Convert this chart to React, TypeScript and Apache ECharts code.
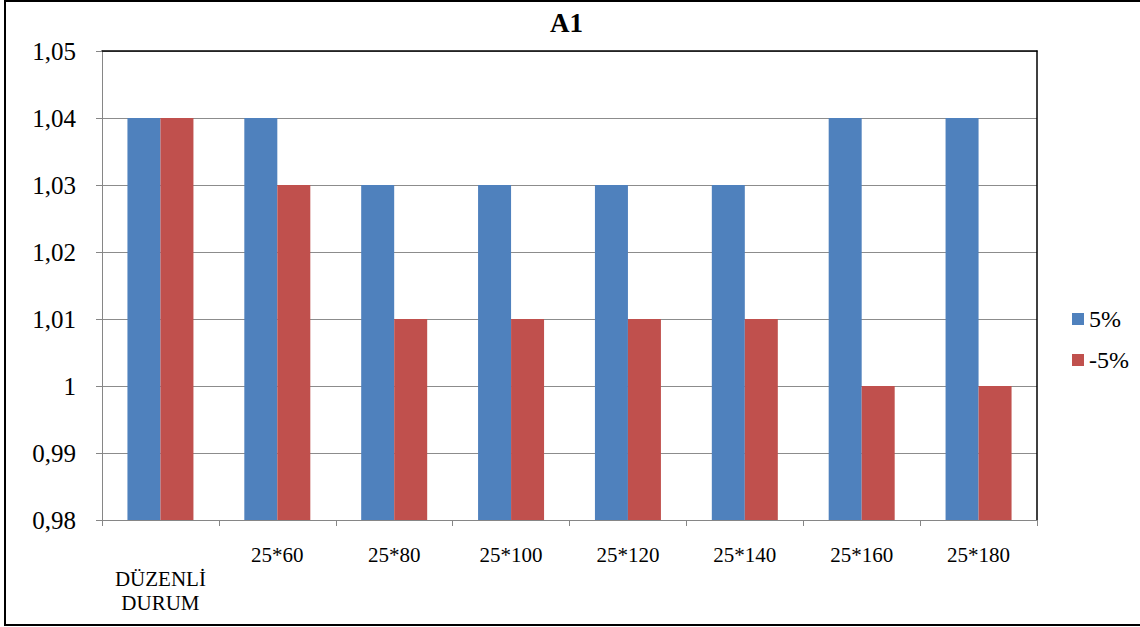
import React, { useEffect, useRef } from "react";
import * as echarts from "echarts";

const categories = ["DÜZENLİ DURUM", "25*60", "25*80", "25*100", "25*120", "25*140", "25*160", "25*180"];
const seriesPlus = [1.04, 1.04, 1.03, 1.03, 1.03, 1.03, 1.04, 1.04];
const seriesMinus = [1.04, 1.03, 1.01, 1.01, 1.01, 1.01, 1.0, 1.0];
const seriesNames = ["5%", "-5%"];
const yMin = 0.98;
const yMax = 1.05;
const yStep = 0.01;

const FONT = "Times New Roman, Liberation Serif, serif";

export default function App() {
  const ref = useRef<HTMLDivElement>(null);

  useEffect(() => {
    document.body.style.margin = "0";
    if (!ref.current) return;
    const chart = echarts.init(ref.current, undefined, { renderer: "svg" });

    const formatTick = (v: number) => String(Number(v.toFixed(2))).replace(".", ",");
    const formatCat = (v: string) => (v === "DÜZENLİ DURUM" ? "\nDÜZENLİ\nDURUM" : v);

    chart.setOption({
      animation: false,
      backgroundColor: "#ffffff",
      textStyle: { fontFamily: FONT },
      title: {
        text: "A1",
        left: 550,
        top: 9,
        padding: 0,
        textStyle: { fontFamily: FONT, fontSize: 27, fontWeight: "bold", color: "#000" },
      },
      legend: {
        orient: "vertical",
        left: 1067,
        top: 302,
        itemWidth: 12,
        itemHeight: 12,
        itemGap: 17,
        icon: "rect",
        textStyle: { fontFamily: FONT, fontSize: 24, color: "#000" },
        data: seriesNames,
      },
      grid: { left: 102, right: 103, top: 51, bottom: 107, containLabel: false },
      xAxis: [
        {
          type: "category",
          data: categories,
          axisLine: { lineStyle: { color: "#868686", width: 1 } },
          axisTick: { show: true, length: 6, alignWithLabel: false, lineStyle: { color: "#868686" } },
          axisLabel: {
            interval: 0,
            margin: 23,
            fontFamily: FONT,
            fontSize: 21,
            lineHeight: 24,
            color: "#000",
            formatter: formatCat,
          },
        },
        {
          type: "category",
          position: "top",
          data: categories,
          axisLine: { lineStyle: { color: "#000", width: 1.5 } },
          axisTick: { show: false },
          axisLabel: { show: false },
        },
      ],
      yAxis: [
        {
          type: "value",
          min: yMin,
          max: yMax,
          interval: yStep,
          axisLine: { show: true, lineStyle: { color: "#868686", width: 1 } },
          axisTick: { show: true, length: 6, lineStyle: { color: "#868686" } },
          splitLine: { show: true, lineStyle: { color: "#8c8c8c", width: 1 } },
          axisLabel: {
            margin: 26,
            fontFamily: FONT,
            fontSize: 25,
            color: "#000",
            formatter: formatTick,
          },
        },
        {
          type: "value",
          position: "right",
          min: yMin,
          max: yMax,
          interval: yStep,
          axisLine: { show: true, lineStyle: { color: "#000", width: 1.5 } },
          axisTick: { show: false },
          axisLabel: { show: false },
          splitLine: { show: false },
        },
      ],
      series: [
        {
          name: seriesNames[0],
          type: "bar",
          data: seriesPlus,
          barWidth: 33,
          barGap: "0%",
          itemStyle: { color: "#4F81BD" },
        },
        {
          name: seriesNames[1],
          type: "bar",
          data: seriesMinus,
          barWidth: 33,
          barGap: "0%",
          itemStyle: { color: "#C0504D" },
        },
      ],
      graphic: [
        {
          type: "rect",
          shape: { x: 5, y: 1, width: 1140, height: 624 },
          style: { fill: "none", stroke: "#000", lineWidth: 2 },
          silent: true,
        },
      ],
    });

    return () => chart.dispose();
  }, []);

  return <div ref={ref} style={{ width: 1140, height: 627 }} />;
}
